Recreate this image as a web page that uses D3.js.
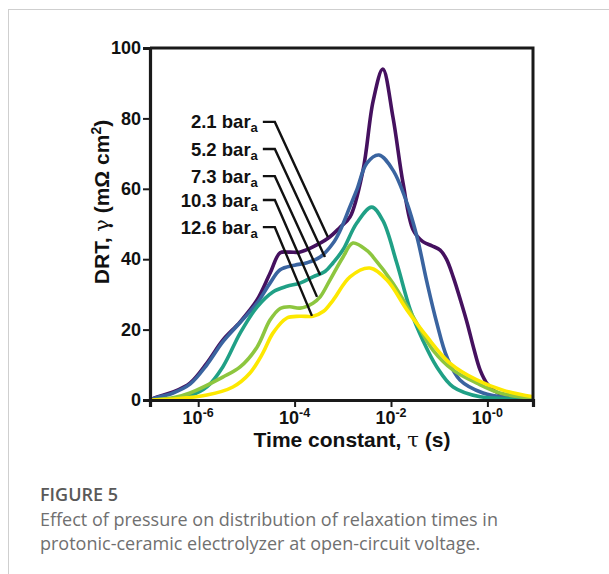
<!DOCTYPE html>
<html>
<head>
<meta charset="utf-8">
<script src="https://d3js.org/d3.v7.min.js"></script>
<style>
  body { margin: 0; background: #fff; }
  .tick-label { font-family: "Liberation Sans", Arial, sans-serif; font-weight: bold; font-size: 18px; fill: #111; }
  .axis-title { font-family: "Liberation Sans", Arial, sans-serif; font-weight: bold; font-size: 21px; fill: #111; }
  .series-label { font-family: "Liberation Sans", Arial, sans-serif; font-weight: bold; font-size: 18.5px; fill: #111; }
  .caption-head { font-family: "Open Sans", sans-serif; font-weight: 600; font-size: 18px; fill: #595959; }
  .caption { font-family: "Open Sans", sans-serif; font-size: 18px; fill: #707070; }
</style>
</head>
<body>
<svg id="drt" width="609" height="574"></svg>
<script>
// tau given as log10 exponents, gamma in mOhm cm2
const pressures = ["2.1", "5.2", "7.3", "10.3", "12.6"];
const colors = ["#45115f", "#3a64a0", "#20a086", "#8dc63f", "#fde800"];

const logTau21 = [-7, -6.85, -6.52, -6.17, -5.82, -5.49, -5.13, -4.78, -4.51, -4.30, -4.1, -3.9, -3.62, -3.3, -3.06, -2.85, -2.58, -2.37, -2.17, -1.96, -1.75, -1.54, -1.34, -1.15, -0.98, -0.85, -0.71, -0.55, -0.42, -0.28, -0.15, 0.0, 0.12, 0.4, 0.95];
const gamma21  = [0, 0.9, 2.3, 4.8, 10.5, 17, 22.2, 28.4, 36, 41.8, 42, 42, 43.5, 46, 49, 52, 65.3, 85, 94, 80.4, 61.6, 48.3, 45, 43.8, 42.6, 40, 35, 28, 21.9, 14.5, 8.5, 4.5, 2.8, 1, 0];

const logTau52 = [-7, -6.85, -6.52, -6.17, -5.82, -5.49, -5.13, -4.78, -4.51, -4.30, -4.0, -3.74, -3.47, -3.2, -3.06, -2.85, -2.71, -2.5, -2.25, -1.96, -1.67, -1.46, -1.25, -1.05, -0.84, -0.57, -0.09, 0.5, 0.95];
const gamma52  = [0, 0.7, 2, 4.5, 10, 16.5, 22, 27.5, 33.2, 37, 38.3, 39, 40.6, 44.6, 48, 55, 59.7, 67.3, 69.6, 65.3, 56, 46.3, 33.2, 21.9, 12.2, 5.7, 2, 0.5, 0];

const logTau73 = [-7, -6.5, -6.17, -5.82, -5.49, -5.13, -4.78, -4.45, -4.16, -3.89, -3.62, -3.37, -3.2, -3.0, -2.71, -2.4, -2.17, -1.88, -1.6, -1.34, -1.05, -0.71, -0.15, 0.4, 0.95];
const gamma73  = [0, 0.4, 1.2, 3.7, 9.4, 19, 26.4, 30.7, 32.3, 33.2, 35, 36.5, 39, 42.6, 50.3, 54.8, 51, 38.9, 25.6, 17, 9.4, 3.7, 0.9, 0.4, 0.2];

const logTau103 = [-7, -6.5, -6.17, -5.49, -5.13, -4.78, -4.51, -4.30, -4.1, -3.89, -3.62, -3.47, -3.27, -3.0, -2.79, -2.5, -2.37, -1.96, -1.54, -1.13, -0.71, -0.22, 0.26, 0.95];
const gamma103  = [0, 0.7, 2, 6.5, 9.4, 15, 22.7, 26, 26.5, 26.1, 27.5, 29.3, 34, 40.5, 44.6, 42.5, 40.6, 33.2, 23.6, 14.2, 8.5, 4.8, 2, 0.5];

const logTau126 = [-7, -6.5, -5.82, -5.28, -4.93, -4.66, -4.45, -4.16, -3.89, -3.62, -3.4, -3.2, -2.85, -2.44, -2.08, -1.67, -1.25, -0.78, -0.22, 0.32, 0.95];
const gamma126  = [0, 0.3, 1.4, 3.7, 7.6, 13.3, 19, 23.3, 23.8, 23.8, 25.2, 28.4, 35, 37.5, 34, 25.6, 17.9, 10.5, 5.7, 2.8, 0.9];

const seriesTau = [logTau21, logTau52, logTau73, logTau103, logTau126];
const seriesGamma = [gamma21, gamma52, gamma73, gamma103, gamma126];

// leader lines: label height (gamma) and where each line meets its curve
const labelGamma = [79, 71.3, 63.6, 56.8, 49.1];
const pointerTau = [-3.31, -3.37, -3.47, -3.535, -3.64];
const pointerGamma = [46.3, 40.6, 35.5, 29.3, 23.9];
const elbowTau = -4.41;

const xTickExp = [-6, -4, -2, 0];
const xTickText = ["-6", "-4", "-2", "-0"];
const yTicks = [0, 20, 40, 60, 80, 100];

const svg = d3.select("svg#drt");
const plotLeft = 150, plotRight = 533, plotTop = 48, plotBottom = 400;

// card outline
svg.append("rect")
   .attr("x", 8.5).attr("y", 9.5).attr("width", 700).attr("height", 700)
   .attr("fill", "none").attr("stroke", "#cfcfcf").attr("stroke-width", 1);

const x = d3.scaleLog().domain([1e-7, Math.pow(10, 0.946)]).range([plotLeft, plotRight]);
const y = d3.scaleLinear().domain([0, 100]).range([plotBottom, plotTop]);

// curves
const lineGen = d3.line()
    .x(d => x(Math.pow(10, d[0])))
    .y(d => y(d[1]))
    .curve(d3.curveCatmullRom.alpha(0.5));

seriesTau.forEach((taus, i) => {
    const pts = taus.map((t, j) => [t, seriesGamma[i][j]]);
    svg.append("path")
       .datum(pts)
       .attr("fill", "none")
       .attr("stroke", colors[i])
       .attr("stroke-width", 3.6)
       .attr("stroke-linejoin", "round")
       .attr("d", lineGen);
});

// frame
const frame = svg.append("g").attr("stroke", "#1a1a1a").attr("stroke-width", 3).attr("fill", "none");
frame.append("path")
     .attr("d", `M${plotLeft},${plotTop}H${plotRight}V${plotBottom}`);

// y axis
const yAxis = d3.axisLeft(y).tickValues(yTicks).tickSize(7).tickPadding(2);
const yg = svg.append("g").attr("transform", `translate(${plotLeft},0)`).call(yAxis);
yg.select(".domain").attr("stroke", "#1a1a1a").attr("stroke-width", 3.2);
yg.selectAll(".tick line").attr("stroke", "#1a1a1a").attr("stroke-width", 2);
yg.selectAll(".tick text").attr("class", "tick-label").attr("fill", null).attr("font-size", null).attr("font-family", null);

// x axis
const xAxis = d3.axisBottom(x).tickValues(xTickExp.map(e => Math.pow(10, e))).tickSize(7).tickFormat("");
const xg = svg.append("g").attr("transform", `translate(0,${plotBottom})`).call(xAxis);
xg.select(".domain").attr("stroke", "#1a1a1a").attr("stroke-width", 3.2);
xg.selectAll(".tick line").attr("stroke", "#1a1a1a").attr("stroke-width", 2);

xTickExp.forEach((e, i) => {
    const t = svg.append("text")
       .attr("class", "tick-label")
       .attr("x", x(Math.pow(10, e)))
       .attr("y", 424)
       .attr("text-anchor", "middle");
    t.append("tspan").text("10");
    t.append("tspan").attr("dy", -7).attr("font-size", 12.5).text(xTickText[i]);
});

// axis titles
const xt = svg.append("text").attr("class", "axis-title")
   .attr("x", 352).attr("y", 447).attr("text-anchor", "middle");
xt.append("tspan").text("Time constant, ");
xt.append("tspan").attr("font-family", "DejaVu Serif, serif").attr("font-weight", "normal").text("τ");
xt.append("tspan").text(" (s)");

const yt = svg.append("text").attr("class", "axis-title")
   .attr("transform", "translate(109,202) rotate(-90)")
   .attr("text-anchor", "middle");
yt.append("tspan").text("DRT, ");
yt.append("tspan").attr("font-family", "DejaVu Serif, serif").attr("font-weight", "normal").text("γ");
yt.append("tspan").text(" (mΩ cm");
yt.append("tspan").attr("dy", -8).attr("font-size", 14).text("2");
yt.append("tspan").attr("dy", 8).text(")");

// series labels with leader lines
pressures.forEach((p, i) => {
    const ly = y(labelGamma[i]);
    const ex = x(Math.pow(10, elbowTau));
    svg.append("path")
       .attr("d", `M${ex - 12},${ly}H${ex}L${x(Math.pow(10, pointerTau[i]))},${y(pointerGamma[i])}`)
       .attr("fill", "none")
       .attr("stroke", "#111")
       .attr("stroke-width", 2.4);
    const t = svg.append("text")
       .attr("class", "series-label")
       .attr("x", ex - 17)
       .attr("y", ly + 6.5)
       .attr("text-anchor", "end");
    t.append("tspan").text(p + " bar");
    t.append("tspan").attr("dy", 4).attr("font-size", 13).text("a");
});

// caption
svg.append("text").attr("class", "caption-head").attr("x", 40).attr("y", 501).text("FIGURE 5");
svg.append("text").attr("class", "caption").attr("x", 40).attr("y", 526)
   .text("Effect of pressure on distribution of relaxation times in");
svg.append("text").attr("class", "caption").attr("x", 40).attr("y", 550)
   .text("protonic-ceramic electrolyzer at open-circuit voltage.");
</script>
</body>
</html>
